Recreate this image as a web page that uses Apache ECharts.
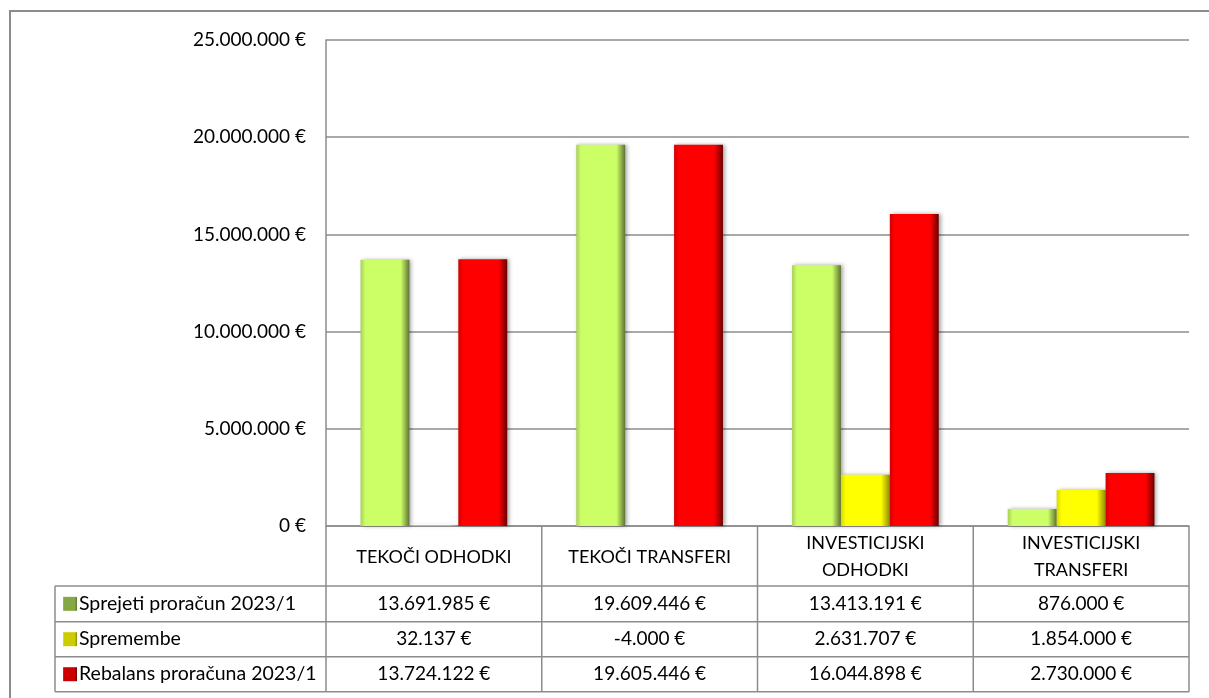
<!DOCTYPE html>
<html>
<head>
<meta charset="utf-8">
<script src="https://cdn.jsdelivr.net/npm/echarts@6/dist/echarts.min.js"></script>
<style>
  html, body { margin: 0; padding: 0; background: #fff; }
  #main { width: 1209px; height: 698px; }
</style>
</head>
<body>
<div id="main"></div>
<script>
// podatki
var categories = ['TEKOČI ODHODKI', 'TEKOČI TRANSFERI', 'INVESTICIJSKI ODHODKI', 'INVESTICIJSKI TRANSFERI']
var seriesNames = ['Sprejeti proračun 2023/1', 'Spremembe', 'Rebalans proračuna 2023/1']
var sprejeti = [13691985, 19609446, 13413191, 876000]
var spremembe = [32137, -4000, 2631707, 1854000]
var rebalans = [13724122, 19605446, 16044898, 2730000]
var yMin = 0
var yMax = 25000000
var yStep = 5000000

var FONT = 'Lato'
var LINE = '#8c8c8c'

function fmt(v) {
  var s = String(Math.abs(v)).replace(/\B(?=(\d{3})+(?!\d))/g, '.')
  return (v < 0 ? '-' : '') + s + ' €'
}

function barGrad(edgeL, mid, edgeR) {
  return new echarts.graphic.LinearGradient(0, 0, 1, 0, [
    { offset: 0, color: edgeL },
    { offset: 0.1, color: mid },
    { offset: 0.82, color: mid },
    { offset: 1, color: edgeR }
  ])
}
var colors = [
  barGrad('#a9cf57', '#ccff66', '#5f7233'),
  barGrad('#d8d800', '#ffff00', '#8f8f00'),
  barGrad('#d20000', '#ff0000', '#6a0000')
]
var keyColors = [
  barGrad('#9cc25a', '#86a844', '#5f7a30'),
  barGrad('#e6e600', '#cccc00', '#8f8f00'),
  barGrad('#ff2020', '#cc0000', '#7a0000')
]

// razporeditev tabele
var L = 326, R = 1189, B = 526
var tableLeft = 55
var rowY = [586, 621.7, 656.7, 691.7]
var colW = (R - L) / categories.length

var graphics = []
// zunanji okvir
graphics.push({ type: 'rect', silent: true, shape: { x: 10, y: 11, width: 1220, height: 700 },
  style: { fill: 'none', stroke: LINE, lineWidth: 2 } })
// navpične črte
for (var c = 0; c <= categories.length; c++) {
  var x = L + c * colW
  graphics.push({ type: 'line', silent: true, shape: { x1: x, y1: B, x2: x, y2: rowY[3] },
    style: { stroke: LINE, lineWidth: 1.5 } })
}
graphics.push({ type: 'line', silent: true, shape: { x1: tableLeft, y1: rowY[0], x2: tableLeft, y2: rowY[3] },
  style: { stroke: LINE, lineWidth: 1.5 } })
// vodoravne črte
rowY.forEach(function (y) {
  graphics.push({ type: 'line', silent: true, shape: { x1: tableLeft, y1: y, x2: R, y2: y },
    style: { stroke: LINE, lineWidth: 1.5 } })
})
// vrstice
var rows = [sprejeti, spremembe, rebalans]
rows.forEach(function (vals, r) {
  var cy = (rowY[r] + rowY[r + 1]) / 2
  graphics.push({ type: 'rect', silent: true, shape: { x: 63, y: cy - 7, width: 14, height: 14 },
    style: { fill: keyColors[r] } })
  graphics.push({ type: 'text', silent: true, x: 79, y: cy,
    style: { text: seriesNames[r], fill: '#000', font: '19.5px ' + FONT, verticalAlign: 'middle', align: 'left' } })
  vals.forEach(function (v, c) {
    graphics.push({ type: 'text', silent: true, x: L + (c + 0.5) * colW, y: cy,
      style: { text: fmt(v), fill: '#000', font: '19px ' + FONT, verticalAlign: 'middle', align: 'center' } })
  })
})

var chart = echarts.init(document.getElementById('main'))
var barSeries = [sprejeti, spremembe, rebalans].map(function (d, i) {
  return {
    name: seriesNames[i],
    type: 'bar',
    data: d,
    barGap: '0%',
    barCategoryGap: '32%',
    itemStyle: {
      color: colors[i],
      shadowBlur: 4,
      shadowColor: 'rgba(0,0,0,0.35)',
      shadowOffsetX: 2
    }
  }
})

chart.setOption({
  animation: false,
  grid: { left: L, right: 1209 - R, top: 40, bottom: 698 - B, containLabel: false },
  xAxis: {
    type: 'category',
    data: categories,
    axisLine: { show: true, lineStyle: { color: LINE, width: 1.5 } },
    axisTick: { show: false },
    axisLabel: {
      interval: 0,
      margin: 31,
      verticalAlign: 'middle',
      lineHeight: 27,
      color: '#000',
      fontFamily: FONT,
      fontSize: 18,
      formatter: function (v) {
        return v.indexOf('INVESTICIJSKI') === 0 ? v.replace(' ', '\n') : v
      }
    }
  },
  yAxis: {
    type: 'value',
    min: yMin,
    max: yMax,
    interval: yStep,
    axisLine: { show: true, lineStyle: { color: LINE, width: 1.5 } },
    axisTick: { show: false },
    splitLine: { lineStyle: { color: LINE, width: 1.5 } },
    axisLabel: {
      margin: 20,
      color: '#000',
      fontFamily: FONT,
      fontSize: 19,
      formatter: function (v) { return fmt(v) }
    }
  },
  graphic: graphics,
  series: barSeries
})
</script>
</body>
</html>
